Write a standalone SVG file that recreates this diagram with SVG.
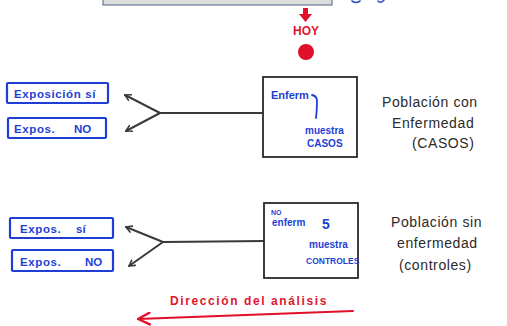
<svg xmlns="http://www.w3.org/2000/svg" width="507" height="326" viewBox="0 0 507 326">
  <defs>
    <style>
      .blue-box { fill: #ffffff; stroke: #1f3fd4; stroke-width: 2.2; }
      .blue-txt { fill: #1f3fd4; font-family: "Liberation Sans", Arial, sans-serif; font-weight: bold; }
      .group-box { fill: #ffffff; stroke: #2a2a2a; stroke-width: 1.8; }
      .note { fill: #2a2a2a; font-family: "Liberation Sans", Arial, sans-serif; font-size: 14px; letter-spacing: 0.6px; }
      .link { fill: none; stroke: #3a3a3a; stroke-width: 2; stroke-linecap: round; stroke-linejoin: round; }
      .red { fill: #e0102a; }
      .red-txt { fill: #e0162e; font-family: "Liberation Sans", Arial, sans-serif; font-weight: bold; }
    </style>
    <marker id="openHead" viewBox="0 0 10 10" refX="8" refY="5" markerWidth="8" markerHeight="8" orient="auto" markerUnits="userSpaceOnUse">
      <path d="M1,1 L8,5 L1,9" fill="none" stroke="#3a3a3a" stroke-width="2" stroke-linecap="round" stroke-linejoin="round"/>
    </marker>
    <marker id="redHead" viewBox="0 0 12 12" refX="11" refY="6" markerWidth="14" markerHeight="14" orient="auto" markerUnits="userSpaceOnUse">
      <path d="M1,1 L11,6 L1,11" fill="none" stroke="#e0102a" stroke-width="2" stroke-linecap="round" stroke-linejoin="round"/>
    </marker>
  </defs>

  <rect width="507" height="326" fill="#ffffff"/>

  <!-- timeline banner at the top -->
  <g id="banner">
    <rect x="103" y="-10" width="229" height="15" fill="#dcdcdc" stroke="#6a7894" stroke-width="1.2"/>
    <path d="M352,1 q4,3 8,0 M378,1 q3,3 6,-1" fill="none" stroke="#3050c8" stroke-width="1.6" stroke-linecap="round"/>
  </g>

  <!-- present-day marker -->
  <g id="hoy">
    <path class="red" d="M303,8 h5 v6 h4 l-6.5,8 l-6.5,-8 h4 z"/>
    <text class="red-txt" x="306" y="35" font-size="12" text-anchor="middle">HOY</text>
    <circle class="red" cx="306" cy="52" r="8"/>
  </g>

  <!-- connectors -->
  <g id="connectors">
    <path class="link" d="M263,113 L160,113"/>
    <path class="link" d="M160,113 L125,95" marker-end="url(#openHead)"/>
    <path class="link" d="M160,113 L126,131" marker-end="url(#openHead)"/>
    <path class="link" d="M265,241 L163,242"/>
    <path class="link" d="M163,242 L126,227" marker-end="url(#openHead)"/>
    <path class="link" d="M163,242 L129,266" marker-end="url(#openHead)"/>
  </g>

  <!-- exposure boxes, cases -->
  <g id="expo-si-casos">
    <rect class="blue-box" x="7" y="83" width="101" height="20" rx="1"/>
    <text class="blue-txt" x="14" y="98" font-size="11.5" letter-spacing="0.6">Exposición sí</text>
  </g>
  <g id="expo-no-casos">
    <rect class="blue-box" x="8" y="118" width="98" height="20" rx="1"/>
    <text class="blue-txt" x="14" y="133" font-size="11.5" letter-spacing="0.6">Expos.</text>
    <text class="blue-txt" x="74" y="133" font-size="11.5">NO</text>
  </g>

  <!-- cases sample -->
  <g id="casos">
    <rect class="group-box" x="263" y="77" width="94" height="80"/>
    <text class="blue-txt" x="271" y="99" font-size="11">Enferm</text>
    <path d="M312,95 q5,1 5,6 q0,9 -1,17" fill="none" stroke="#1f3fd4" stroke-width="1.8" stroke-linecap="round"/>
    <text class="blue-txt" x="305" y="134" font-size="10">muestra</text>
    <text class="blue-txt" x="307" y="147" font-size="10">CASOS</text>
  </g>
  <g id="casos-label">
    <text class="note" x="382" y="107">Población con</text>
    <text class="note" x="392" y="128">Enfermedad</text>
    <text class="note" x="412" y="148">(CASOS)</text>
  </g>

  <!-- exposure boxes, controls -->
  <g id="expo-si-controles">
    <rect class="blue-box" x="10" y="218" width="103" height="20" rx="1"/>
    <text class="blue-txt" x="20" y="233" font-size="11.5" letter-spacing="0.6">Expos.</text>
    <text class="blue-txt" x="76" y="233" font-size="11.5">sí</text>
  </g>
  <g id="expo-no-controles">
    <rect class="blue-box" x="12" y="250" width="101" height="21" rx="1"/>
    <text class="blue-txt" x="20" y="265.5" font-size="11.5" letter-spacing="0.6">Expos.</text>
    <text class="blue-txt" x="85" y="265.5" font-size="11.5">NO</text>
  </g>

  <!-- controls sample -->
  <g id="controles">
    <rect class="group-box" x="264" y="203" width="94" height="75"/>
    <text class="blue-txt" x="271" y="215" font-size="7">NO</text>
    <text class="blue-txt" x="272" y="226" font-size="10">enferm</text>
    <text class="blue-txt" x="322" y="229" font-size="14">5</text>
    <text class="blue-txt" x="309" y="248" font-size="10">muestra</text>
    <text class="blue-txt" x="306" y="264" font-size="8.5">CONTROLES</text>
  </g>
  <g id="controles-label">
    <text class="note" x="391" y="227">Población sin</text>
    <text class="note" x="397" y="248">enfermedad</text>
    <text class="note" x="399" y="270">(controles)</text>
  </g>

  <!-- analysis direction -->
  <g id="direccion">
    <text class="red-txt" x="170" y="305" font-size="12" letter-spacing="1.6">Dirección del análisis</text>
    <path d="M353,311 L138,319" fill="none" stroke="#e0102a" stroke-width="2" stroke-linecap="round" marker-end="url(#redHead)"/>
  </g>
</svg>
